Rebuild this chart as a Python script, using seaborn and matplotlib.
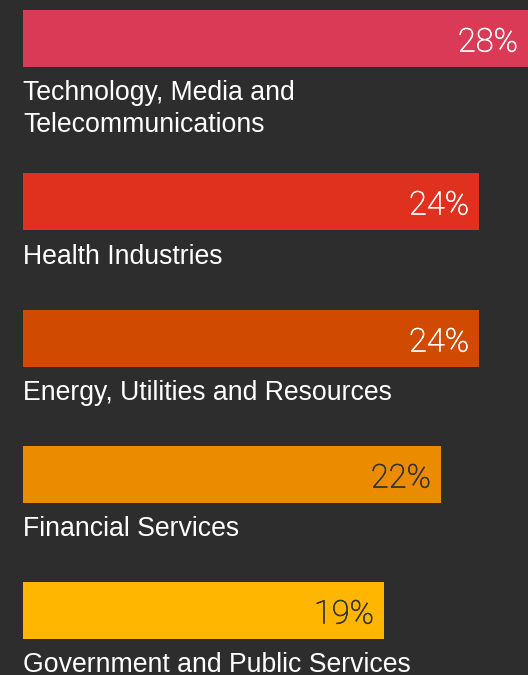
import matplotlib
matplotlib.use("Agg")
import matplotlib.pyplot as plt
import matplotlib.transforms as mtransforms
import matplotlib.patheffects as pe
import seaborn as sns
import pandas as pd

categories = [
    "Technology, Media and\nTelecommunications",
    "Health Industries",
    "Energy, Utilities and Resources",
    "Financial Services",
    "Government and Public Services",
]
values = [28, 24, 24, 22, 19]
colors = ["#db3a57", "#e0301e", "#d04a02", "#eb8c00", "#ffb600"]
label_colors = ["#ffffff", "#ffffff", "#ffffff", "#333333", "#333333"]

BG = "#2d2d2d"
sns.set_theme(style="white")
plt.rcParams["font.family"] = ["Liberation Sans", "DejaVu Sans"]

W, H = 528, 675
fig = plt.figure(figsize=(W / 100, H / 100), dpi=100, facecolor=BG)

bar_tops = [10, 173, 310, 446, 582]   # pixel layout
bar_h = 57
left = 23
px_per_unit = 19.0
xmax = (W - left) / px_per_unit

for i, (cat, val, col, lc) in enumerate(zip(categories, values, colors, label_colors)):
    top = bar_tops[i]
    ax = fig.add_axes([left / W, (H - top - bar_h) / H, (W - left) / W, bar_h / H])
    df = pd.DataFrame({"cat": [cat], "val": [val]})
    sns.barplot(data=df, x="val", y="cat", color=col, ax=ax, width=1.0,
                saturation=1.0, orient="h", linewidth=0, edgecolor="none")
    ax.set_xlim(0, xmax)
    ax.set_ylim(0.5, -0.5)
    ax.axis("off")
    ax.set_facecolor(BG)
    xpos = min(val, xmax)
    off = mtransforms.offset_copy(ax.transData, fig=fig, x=-10, y=-13, units="dots")
    ax.text(xpos, 0, f"{val}%", transform=off, ha="right", va="baseline",
            color=lc, fontsize=23.5, fontfamily=["Roboto", "DejaVu Sans"],
            fontweight="light",
            path_effects=[pe.withStroke(linewidth=0.45, foreground=lc)])
    for k, line in enumerate(cat.split("\n")):
        base = top + bar_h + 33.5 + k * 32
        fig.text(left / W, (H - base) / H, line, ha="left", va="baseline",
                 color="white", fontsize=19.2)

fig.savefig("out.png", dpi=100, facecolor=BG)
